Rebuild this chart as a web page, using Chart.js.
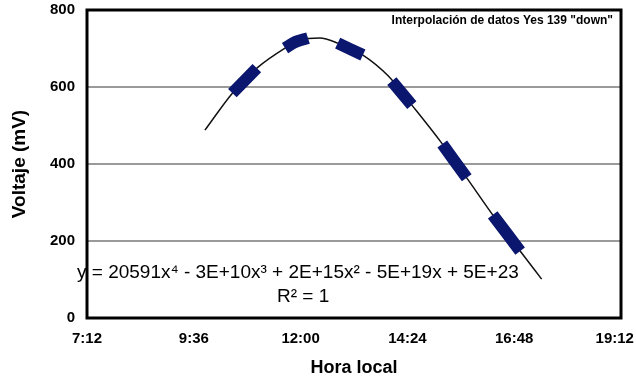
<!DOCTYPE html>
<html>
<head>
<meta charset="utf-8">
<script src="https://cdn.jsdelivr.net/npm/chart.js@4/dist/chart.umd.min.js"></script>
<style>
  html, body { margin: 0; padding: 0; background: #fff; }
  #wrap { width: 636px; height: 379px; position: relative; }
</style>
</head>
<body>
<div id="wrap"><canvas id="chart" width="636" height="379"></canvas></div>
<script>
// x axis ticks (fraction of a day, like the spreadsheet)
const xTicks = [0.3, 0.4, 0.5, 0.6, 0.7, 0.8];
const yTicks = [0, 200, 400, 600, 800];

// fitted trend line
const trendTimes = ['9:51', '10:28', '11:01', '11:39', '11:59', '12:26', '12:50', '13:24', '13:58',
  '14:30', '15:08', '15:44', '16:19', '16:56', '17:25'];
const trendMv = [488, 584, 649, 701, 722, 727, 714, 683, 629,
  553, 460, 364, 268, 174, 101];

// measured data (null = gap between recorded stretches)
const measTimes = ['10:28', '11:01', null, '11:39', '11:52', '12:10', null, '12:50', '13:24', null,
  '14:03', '14:30', null, '15:11', '15:44', null, '16:19', '16:56'];
const measMv = [584, 649, null, 701, 716, 727, null, 714, 683, null,
  615, 553, null, 452, 364, null, 268, 174];

const chartTitle = 'Interpolación de datos Yes 139 "down"';
const equation = 'y = 20591x\u2074 - 3E+10x\u00b3 + 2E+15x\u00b2 - 5E+19x + 5E+23';
const rSquared = 'R\u00b2 = 1';

const FONT = '"Liberation Sans", Arial, sans-serif';

function toDay(t) {
  const p = t.split(':');
  return (parseInt(p[0]) * 60 + parseInt(p[1])) / 1440;
}

function fmtTime(v) {
  const m = Math.round(v * 1440);
  const h = Math.floor(m / 60);
  const mm = m % 60;
  return h + ':' + (mm < 10 ? '0' : '') + mm;
}

const trendData = trendTimes.map((t, i) => ({ x: toDay(t), y: trendMv[i] }));
let lastX = 0;
const measData = measTimes.map((t, i) => {
  if (t === null) return { x: lastX, y: null };
  lastX = toDay(t);
  return { x: lastX, y: measMv[i] };
});

// border box + texts inside the plot
const boxPlugin = {
  id: 'boxText',
  beforeDatasetsDraw(chart) {
    const { ctx, chartArea: a } = chart;
    ctx.save();
    ctx.fillStyle = '#000';
    ctx.textBaseline = 'alphabetic';
    ctx.font = '19px ' + FONT;
    ctx.textAlign = 'left';
    ctx.fillText(equation, 77, 278, 450);
    ctx.fillText(rSquared, 277, 302);
    ctx.font = 'bold 12px ' + FONT;
    ctx.textAlign = 'right';
    ctx.fillText(chartTitle, a.right - 8, 24);
    ctx.restore();
  },
  afterDraw(chart) {
    const { ctx, chartArea: a } = chart;
    ctx.save();
    ctx.strokeStyle = '#000';
    ctx.lineWidth = 3;
    ctx.strokeRect(a.left, a.top, a.right - a.left, a.bottom - a.top);
    ctx.restore();
  }
};

new Chart(document.getElementById('chart'), {
  type: 'line',
  data: {
    datasets: [
      {
        label: 'datos',
        data: measData,
        borderColor: '#0b166e',
        borderWidth: 12,
        borderCapStyle: 'butt',
        borderJoinStyle: 'round',
        pointRadius: 0,
        tension: 0.3,
        spanGaps: false,
        order: 0
      },
      {
        label: 'tendencia',
        data: trendData,
        borderColor: '#111',
        borderWidth: 1.5,
        pointRadius: 0,
        cubicInterpolationMode: 'monotone',
        order: 1
      }
    ]
  },
  options: {
    responsive: false,
    animation: false,
    devicePixelRatio: 1,
    layout: { padding: { top: 10, right: 15, left: 0, bottom: 0 } },
    plugins: { legend: { display: false }, tooltip: { enabled: false } },
    scales: {
      x: {
        type: 'linear',
        min: 0.3,
        max: 0.8,
        afterBuildTicks(scale) { scale.ticks = xTicks.map(v => ({ value: v })); },
        afterFit(scale) { scale.height = 61; scale.paddingLeft = 0; scale.paddingRight = 0; },
        grid: { display: false, drawTicks: false },
        border: { display: false },
        ticks: {
          padding: 12,
          color: '#000',
          maxRotation: 0,
          font: { family: FONT, size: 15, weight: 'bold' },
          // last label sits a bit left of its tick, as in the original
          callback: (v, i, arr) => fmtTime(v) + (i === arr.length - 1 ? '   ' : '')
        },
        title: {
          display: true,
          text: 'Hora local',
          color: '#000',
          font: { family: FONT, size: 18, weight: 'bold' },
          padding: { top: 0, bottom: 0 }
        }
      },
      y: {
        min: 0,
        max: 800,
        afterBuildTicks(scale) { scale.ticks = yTicks.map(v => ({ value: v })); },
        afterFit(scale) { scale.width = 87; scale.paddingTop = 0; scale.paddingBottom = 0; },
        grid: { color: '#9a9a9a', lineWidth: 2, drawTicks: false },
        border: { display: false },
        ticks: {
          padding: 12,
          color: '#000',
          font: { family: FONT, size: 15, weight: 'bold' }
        },
        title: {
          display: true,
          text: 'Voltaje (mV)',
          color: '#000',
          font: { family: FONT, size: 19, weight: 'bold' },
          padding: { top: 8, bottom: 0 }
        }
      }
    }
  },
  plugins: [boxPlugin]
});
</script>
</body>
</html>
